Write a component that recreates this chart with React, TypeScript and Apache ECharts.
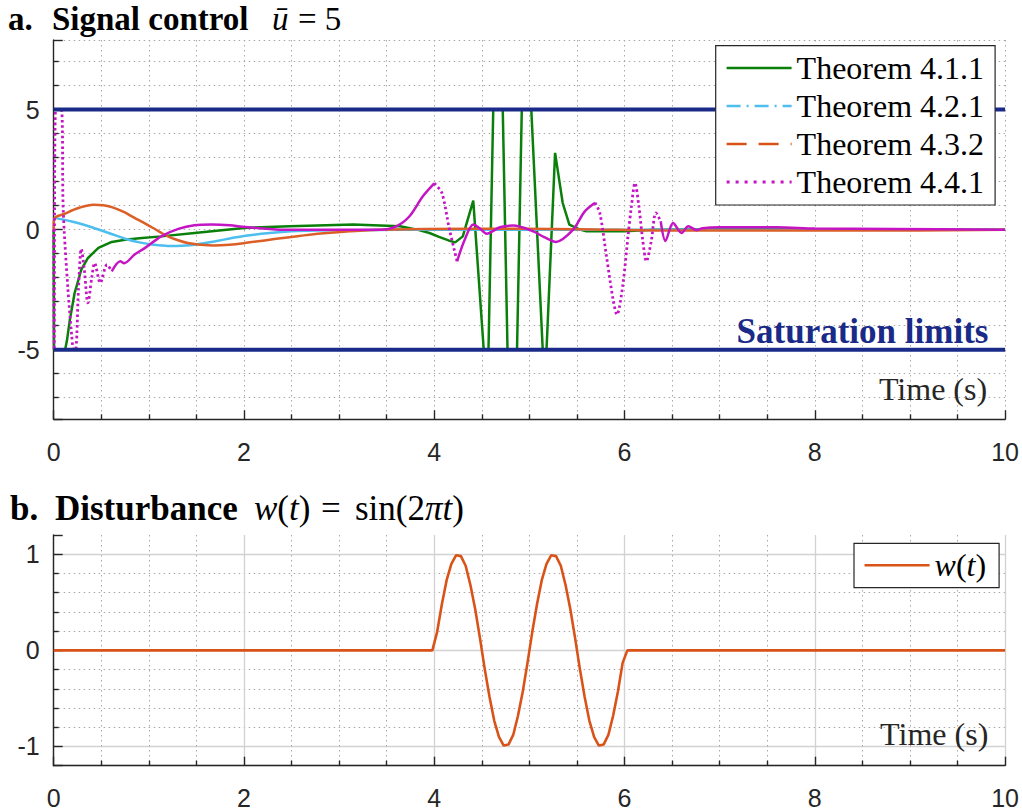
import React, { useEffect, useRef } from 'react';
import * as echarts from 'echarts';

// ---------- data ----------
const seriesNames = ['Theorem 4.1.1', 'Theorem 4.2.1', 'Theorem 4.3.2', 'Theorem 4.4.1'];

const greenT = [0, 0.003, 0.12, 0.14, 0.17, 0.22, 0.29, 0.36, 0.47, 0.61, 0.75, 0.9, 1.13, 1.48, 2.0, 2.48, 3.15, 3.64, 3.82, 3.95, 4.05, 4.15, 4.22, 4.3, 4.41, 4.52, 4.57, 4.62, 4.72, 4.77, 4.87, 4.92, 5.02, 5.14, 5.18, 5.27, 5.35, 5.42, 5.53, 5.6, 6.0, 6.3, 7.0, 10];
const greenV = [0, -5, -5, -4.6, -3.75, -2.64, -1.67, -1.18, -0.76, -0.51, -0.42, -0.36, -0.28, -0.14, 0.07, 0.14, 0.21, 0.14, 0.0, -0.14, -0.3, -0.45, -0.53, -0.28, 1.21, -5, -5, 5, 5, -5, -5, 5, 5, -5, -5, 3.2, 1.11, 0.21, 0.0, -0.07, -0.07, 0, 0.02, 0];

const blueT = [0, 0.2, 0.4, 0.6, 0.75, 0.9, 1.05, 1.2, 1.35, 1.5, 1.7, 1.85, 2.0, 2.27, 2.5, 2.75, 3.2, 4.0, 10];
const blueV = [0.5, 0.33, 0.1, -0.17, -0.38, -0.53, -0.63, -0.68, -0.67, -0.62, -0.48, -0.37, -0.26, -0.14, -0.07, -0.04, -0.02, 0, 0];

const orangeT = [0, 0.005, 0.12, 0.26, 0.42, 0.52, 0.61, 0.73, 0.85, 0.94, 1.03, 1.2, 1.3, 1.41, 1.55, 1.68, 1.85, 2.01, 2.27, 2.69, 3.11, 3.43, 4.4, 5.5, 6.5, 8.5, 10];
const orangeV = [0, 0.45, 0.67, 0.9, 1.04, 1.02, 0.94, 0.75, 0.49, 0.3, 0.1, -0.28, -0.43, -0.56, -0.63, -0.66, -0.63, -0.56, -0.42, -0.21, -0.07, 0, 0.04, 0.02, -0.04, -0.04, 0];

const magentaT = [0, 0.005, 0.02, 0.08, 0.1, 0.15, 0.19, 0.21, 0.23, 0.26, 0.29, 0.32, 0.36, 0.4, 0.43, 0.49, 0.56, 0.61, 0.7, 0.74, 0.85, 0.96, 1.13, 1.31, 1.48, 1.66, 1.85, 2.01, 2.38, 2.9, 3.43, 3.6, 3.74, 3.88, 4.0, 4.08, 4.16, 4.24, 4.32, 4.41, 4.48, 4.55, 4.69, 4.83, 5.04, 5.15, 5.28, 5.46, 5.58, 5.69, 5.74, 5.81, 5.88, 5.92, 5.98, 6.04, 6.07, 6.11, 6.15, 6.19, 6.23, 6.28, 6.33, 6.38, 6.43, 6.51, 6.6, 6.67, 6.76, 6.82, 7.0, 7.6, 8.0, 8.8, 10];
const magentaV = [0, -5, 5, 5, 0.83, -2.5, -4.44, -5, -5, -2.5, -0.8, -1.6, -3.05, -2.0, -1.39, -2.22, -1.46, -1.74, -1.32, -1.4, -1.04, -0.76, -0.28, 0.03, 0.18, 0.21, 0.18, 0.11, 0, 0, 0, 0.14, 0.56, 1.39, 1.93, 1.53, 0, -1.32, -0.42, 0.21, 0.05, -0.17, 0.1, 0.17, -0.07, -0.3, -0.51, 0, 0.75, 1.12, 0.7, -1.11, -2.92, -3.54, -2.36, -0.14, 0.9, 1.94, 1.0, -0.4, -1.32, -0.5, 0.7, 0.35, -0.47, 0.28, -0.14, 0.14, -0.02, 0.06, 0.1, 0.1, 0.05, 0.03, 0];

const saturationT = [0, 10];
const saturationLevel = 5;

const wT = [0, 3.98, 4.03, 4.08, 4.13, 4.18, 4.23, 4.28, 4.33, 4.38, 4.43, 4.48, 4.53, 4.58, 4.63, 4.68, 4.73, 4.78, 4.83, 4.88, 4.93, 4.98, 5.03, 5.08, 5.13, 5.18, 5.23, 5.28, 5.33, 5.38, 5.43, 5.48, 5.53, 5.58, 5.63, 5.68, 5.73, 5.78, 5.83, 5.88, 5.93, 5.98, 6.03, 10];
const wV = [0, 0, 0.19, 0.48, 0.73, 0.9, 0.99, 0.98, 0.88, 0.68, 0.43, 0.13, -0.19, -0.48, -0.73, -0.9, -0.99, -0.98, -0.88, -0.68, -0.43, -0.13, 0.19, 0.48, 0.73, 0.9, 0.99, 0.98, 0.88, 0.68, 0.43, 0.13, -0.19, -0.48, -0.73, -0.9, -0.99, -0.98, -0.88, -0.68, -0.43, -0.13, 0, 0];

const xTickLabels = [0, 2, 4, 6, 8, 10];
const yTickLabelsTop = [-5, 0, 5];
const yTickLabelsBottom = [-1, 0, 1];

// time spans where the magenta trace is drawn with its dotted look
const magentaDottedSpans = [[0, 0.62], [4.02, 4.26], [5.7, 6.36]];

// ---------- styles ----------
const AX = '#262626';
const SERIF = "'Liberation Serif', 'Times New Roman', serif";
const SANS = "'Liberation Sans', Arial, Helvetica, sans-serif";
const GREEN = '#0a800a';
const BLUE = '#4dbeee';
const ORANGE = '#dc5f27';
const ORANGE_W = '#d95319';
const MAGENTA = '#c414c4';
const NAVY = '#1a2a88';

const zip = (t: number[], v: number[]) => t.map((x, i) => [x, v[i]]);

function splitBySpans(t: number[], v: number[], spans: number[][]) {
  const inSpan = (a: number, b: number) => {
    const m = (a + b) / 2;
    return spans.some(([s, e]) => m >= s && m <= e);
  };
  const dotted: any[] = [];
  const solid: any[] = [];
  for (let i = 0; i < t.length; i++) {
    const prev = i > 0 ? inSpan(t[i - 1], t[i]) : null;
    const next = i < t.length - 1 ? inSpan(t[i], t[i + 1]) : null;
    dotted.push(prev === true || next === true ? [t[i], v[i]] : [t[i], '-']);
    solid.push(prev === false || next === false ? [t[i], v[i]] : [t[i], '-']);
  }
  return { dotted, solid };
}

const dottedGrid = { color: '#a8a8a8', width: 1, type: [1.5, 3.5] };
const solidGrid = { color: '#d2d2d2', width: 1.3, type: 'solid' };

function makeX(gridIndex: number, major: any) {
  return {
    type: 'value', gridIndex, min: 0, max: 10, interval: 2,
    axisLine: { show: true, onZero: false, lineStyle: { color: AX, width: 1.4 } },
    axisTick: { show: true, inside: true, length: 9, lineStyle: { color: AX, width: 1.4 } },
    minorTick: { show: true, splitNumber: 4, length: 5, lineStyle: { color: AX, width: 1.4 } },
    axisLabel: {
      show: true, margin: 20, fontSize: 25, color: AX, fontFamily: SANS,
      formatter: (v: number) => (xTickLabels.includes(v) ? String(v) : ''),
    },
    splitLine: { show: true, lineStyle: major },
    minorSplitLine: { show: true, lineStyle: dottedGrid },
  };
}

function makeY(gridIndex: number, lim: number, step: number, minorSplit: number, labels: number[], major: any, showMax: boolean) {
  return {
    type: 'value', gridIndex, min: -lim, max: lim, minInterval: step, maxInterval: step, splitNumber: 3,
    axisLine: { show: true, onZero: false, lineStyle: { color: AX, width: 1.4 } },
    axisTick: { show: true, inside: true, length: 9, lineStyle: { color: AX, width: 1.4 } },
    minorTick: { show: true, splitNumber: minorSplit, length: 5, lineStyle: { color: AX, width: 1.4 } },
    axisLabel: {
      show: true, margin: 14, fontSize: 25, color: AX, fontFamily: SANS,
      showMinLabel: false, showMaxLabel: false,
      formatter: (v: number) => {
        const r = Math.round(v * 1000) / 1000;
        return labels.includes(r) ? String(r) : '';
      },
    },
    splitLine: { show: true, lineStyle: major, showMinLine: true, showMaxLine: showMax },
    minorSplitLine: { show: true, lineStyle: dottedGrid },
  };
}

function txt(x: number, y: number, text: string, o: any = {}) {
  const size = o.size || 35;
  return {
    type: 'text', x, y, silent: true, z: 10,
    style: {
      text,
      fill: o.fill || '#000',
      fontFamily: SERIF,
      fontSize: size,
      lineHeight: size,
      fontWeight: o.weight || 'normal',
      fontStyle: o.style || 'normal',
      align: o.align || 'left',
      verticalAlign: 'middle',
      rich: o.rich,
    },
  };
}

const mathRich = {
  i: { fontFamily: SERIF, fontSize: 35, lineHeight: 35, fontStyle: 'italic', fill: '#000' },
  n: { fontFamily: SERIF, fontSize: 35, lineHeight: 35, fill: '#000' },
};

const hideSymbol = { opacity: 0 };

export default function App() {
  const ref = useRef<HTMLDivElement>(null);
  useEffect(() => {
    const chart = echarts.init(ref.current!, null, { renderer: 'svg' });
    const mag = splitBySpans(magentaT, magentaV, magentaDottedSpans);
    const base = { type: 'line', symbol: 'none', showSymbol: false, animation: false, xAxisIndex: 0, yAxisIndex: 0 };
    const option: any = {
      animation: false,
      backgroundColor: '#fff',
      grid: [
        { left: 53.7, right: 16.3, top: 40, height: 379.3 },
        { left: 53.7, right: 16.3, top: 535, height: 230.7 },
      ],
      xAxis: [makeX(0, dottedGrid), makeX(1, solidGrid)],
      yAxis: [
        makeY(0, 7.9, 5, 5, yTickLabelsTop, dottedGrid, true),
        makeY(1, 1.2, 1, 5, yTickLabelsBottom, solidGrid, false),
      ],
      legend: [
        {
          left: 715.7, top: 45.7, orient: 'vertical', selectedMode: false, z: 20,
          itemWidth: 65, itemHeight: 14, itemGap: 0,
          padding: [3.3, 11, 4, 9.5],
          borderColor: AX, borderWidth: 1.2, backgroundColor: '#fff',
          textStyle: { fontFamily: SERIF, fontSize: 32, color: '#000', lineHeight: 38 },
          data: [
            { name: seriesNames[0], itemStyle: hideSymbol, lineStyle: { type: 'solid', width: 2.5, color: GREEN } },
            { name: seriesNames[1], itemStyle: hideSymbol, lineStyle: { type: [14, 6, 2, 6], width: 2.5, color: BLUE } },
            { name: seriesNames[2], itemStyle: hideSymbol, lineStyle: { type: [20, 12], width: 2.5, color: ORANGE_W } },
            { name: seriesNames[3], itemStyle: hideSymbol, lineStyle: { type: [3, 6], width: 2.8, color: MAGENTA } },
          ],
        },
        {
          left: 854, top: 543.3, orient: 'vertical', selectedMode: false, z: 20,
          itemWidth: 65, itemHeight: 14, itemGap: 0,
          padding: [3, 13, 3.4, 9.3],
          borderColor: AX, borderWidth: 1.2, backgroundColor: '#fff',
          textStyle: {
            fontFamily: SERIF, fontSize: 32, color: '#000', lineHeight: 38,
            rich: {
              i: { fontFamily: SERIF, fontSize: 32, fontStyle: 'italic', lineHeight: 38 },
              n: { fontFamily: SERIF, fontSize: 32, lineHeight: 38 },
            },
          },
          formatter: () => '{i|w}{n|(}{i|t}{n|)}',
          data: [{ name: 'w(t)', itemStyle: hideSymbol, lineStyle: { type: 'solid', width: 2.5, color: ORANGE_W } }],
        },
      ],
      series: [
        { ...base, name: seriesNames[0], data: zip(greenT, greenV), z: 2, lineStyle: { color: GREEN, width: 2.5 }, itemStyle: { color: GREEN } },
        { ...base, name: seriesNames[1], data: zip(blueT, blueV), z: 2, smooth: 0.35, lineStyle: { color: BLUE, width: 2.5 }, itemStyle: { color: BLUE } },
        { ...base, name: seriesNames[2], data: zip(orangeT, orangeV), z: 2, smooth: 0.35, lineStyle: { color: ORANGE, width: 2.5 }, itemStyle: { color: ORANGE } },
        { ...base, name: seriesNames[3], data: mag.dotted, z: 3, smooth: 0.3, lineStyle: { color: MAGENTA, width: 2.8, type: [2.5, 2.8] }, itemStyle: { color: MAGENTA } },
        { ...base, name: seriesNames[3], data: mag.solid, z: 3, smooth: 0.3, lineStyle: { color: MAGENTA, width: 2.5 }, itemStyle: { color: MAGENTA } },
        { ...base, name: 'Saturation limits', data: saturationT.map((t) => [t, saturationLevel]), z: 3, lineStyle: { color: NAVY, width: 4 } },
        { ...base, name: 'Saturation limits', data: saturationT.map((t) => [t, -saturationLevel]), z: 3, lineStyle: { color: NAVY, width: 4 } },
        { ...base, name: 'w(t)', xAxisIndex: 1, yAxisIndex: 1, data: zip(wT, wV), z: 2, lineStyle: { color: ORANGE_W, width: 2.6 }, itemStyle: { color: ORANGE_W } },
      ],
      graphic: [
        txt(8, 19, 'a.', { weight: 'bold', size: 33 }),
        txt(52, 19, 'Signal control', { weight: 'bold', size: 33 }),
        txt(272, 19, 'ū', { style: 'italic', size: 33 }),
        txt(298, 19, '= 5', { size: 33 }),
        txt(10, 508.2, 'b.', { weight: 'bold' }),
        txt(55, 508.2, 'Disturbance', { weight: 'bold' }),
        txt(254, 508.2, '{i|w}{n|(}{i|t}{n|)}', { rich: mathRich }),
        txt(321, 508.2, '='),
        txt(355, 508.2, '{n|sin(2}{i|πt}{n|)}', { rich: mathRich }),
        txt(862.5, 331.5, 'Saturation limits', { weight: 'bold', fill: NAVY, align: 'center' }),
        txt(933, 389.2, 'Time (s)', { size: 32, fill: AX, align: 'center' }),
        txt(934.2, 734.2, 'Time (s)', { size: 32, fill: AX, align: 'center' }),
      ],
    };
    chart.setOption(option);
    return () => chart.dispose();
  }, []);
  return (
    <div
      ref={ref}
      style={{ position: 'fixed', left: 0, top: 0, width: 1022, height: 811, background: '#fff' }}
    />
  );
}
